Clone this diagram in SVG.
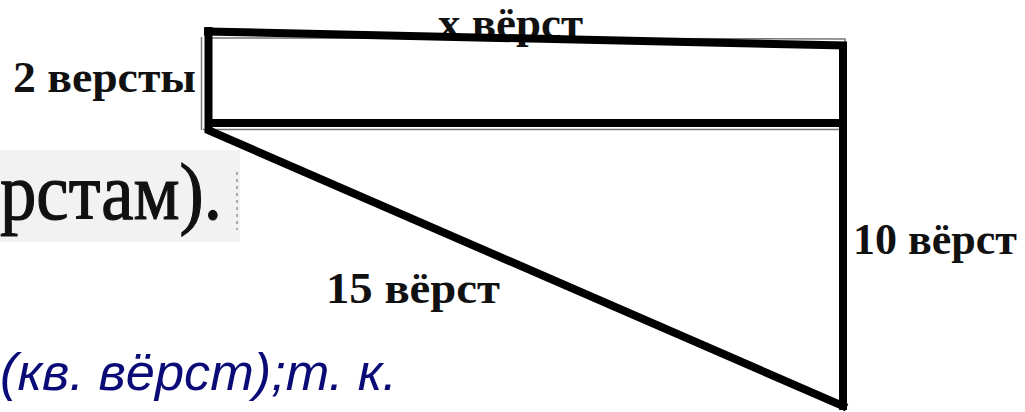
<svg xmlns="http://www.w3.org/2000/svg" width="1025" height="412" viewBox="0 0 1025 412">
<style>
.lbl{font-family:"Liberation Serif","Times New Roman",serif;font-weight:bold;font-size:45px;fill:#111}
.thick{stroke:#000;stroke-width:8;fill:none;stroke-linecap:square}
.thin{stroke:#777;stroke-width:1.5;fill:none}
.blue{font-family:"Liberation Sans",Arial,sans-serif;font-style:italic;font-size:52px;fill:#0b0b78}
</style>
<rect width="1025" height="412" fill="#fff"/>
<g id="background-text">
<rect x="0" y="150" width="240" height="92" fill="#f2f2f2"/>
<line x1="237" y1="172" x2="237" y2="230" stroke="#aaa" stroke-width="2" stroke-dasharray="3,4"/>
<text x="0" y="219" font-family="Liberation Serif,'Times New Roman',serif" font-size="80" fill="#111" stroke="#111" stroke-width="1.2" textLength="222" lengthAdjust="spacingAndGlyphs">рстам).</text>
</g>
<g id="labels">
<text id="lbl-x" class="lbl" x="438" y="38" textLength="145" lengthAdjust="spacingAndGlyphs">x вёрст</text>
<text id="lbl-2" class="lbl" x="13" y="92" textLength="183" lengthAdjust="spacingAndGlyphs">2 версты</text>
<text id="lbl-10" class="lbl" x="853" y="254" textLength="164" lengthAdjust="spacingAndGlyphs">10 вёрст</text>
<text id="lbl-15" class="lbl" x="326" y="303" textLength="174" lengthAdjust="spacingAndGlyphs">15 вёрст</text>
</g>
<g id="shape">
<polyline class="thin" points="207,38 845,39 845,46"/>
<line class="thin" x1="201.5" y1="37" x2="201.5" y2="130"/>
<line class="thin" x1="203" y1="129.5" x2="843" y2="129.5"/>
<line class="thick" x1="208" y1="31.5" x2="843" y2="45.5"/>
<line class="thick" x1="208.5" y1="31" x2="208.5" y2="129"/>
<line class="thick" x1="209" y1="123" x2="843" y2="123"/>
<line class="thick" x1="843" y1="46" x2="843" y2="406"/>
<line class="thick" x1="210" y1="131" x2="843" y2="406"/>
</g>
<text id="formula" class="blue" x="0" y="390" textLength="397" lengthAdjust="spacingAndGlyphs">(кв. вёрст);т. к.</text>
</svg>
